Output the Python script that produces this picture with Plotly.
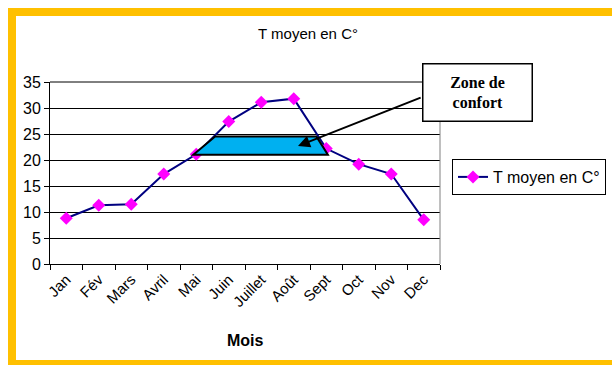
import plotly.graph_objects as go

# Monthly mean temperature
months = ["Jan", "Fév", "Mars", "Avril", "Mai", "Juin", "Juillet", "Août",
          "Sept", "Oct", "Nov", "Dec"]
t_moyen = [8.8, 11.3, 11.5, 17.3, 21.1, 27.4, 31.1, 31.8, 22.2, 19.2, 17.3, 8.5]

# Comfort band (°C) and its extent along the month axis
comfort_low = 21.0
comfort_high = 24.5
comfort_x = [3.91, 4.58, 7.70, 8.05]

y_ticks = [0, 5, 10, 15, 20, 25, 30, 35]

W, H = 612, 365
L, R, T, B = 50, 172, 82, 101
PW, PH = W - L - R, H - T - B


def px_x(px):
    return (px - L) / PW


def px_y(py):
    return (H - B - py) / PH


YELLOW = "#FFC000"
FONT = "Liberation Sans, Arial, sans-serif"

fig = go.Figure()
fig.add_trace(go.Scatter(
    x=months, y=t_moyen, mode="lines+markers", name="T moyen en C°",
    line=dict(color="#000080", width=2),
    marker=dict(symbol="diamond", size=10, color="#FF00FF",
                line=dict(width=0)),
))

shapes = []
# Yellow frame: one thick outline whose right side lies off the page
shapes.append(dict(type="rect", xref="paper", yref="paper",
                   x0=px_x(12), x1=px_x(660), y0=px_y(12), y1=px_y(364),
                   fillcolor="rgba(0,0,0,0)",
                   line=dict(color=YELLOW, width=8), layer="below"))
# Plot-area right border and top line
shapes.append(dict(type="line", xref="paper", yref="paper", x0=1, x1=1,
                   y0=0, y1=1, line=dict(color="#808080", width=1)))
shapes.append(dict(type="line", xref="paper", yref="paper", x0=0, x1=1,
                   y0=1, y1=1, line=dict(color="black", width=1)))
# Comfort zone trapezoid
path = (f"M {comfort_x[0]},{comfort_low} L {comfort_x[1]},{comfort_high} "
        f"L {comfort_x[2]},{comfort_high} L {comfort_x[3]},{comfort_low} Z")
shapes.append(dict(type="path", xref="x", yref="y", path=path,
                   fillcolor="#00B0F0", line=dict(color="black", width=2),
                   layer="above"))

annotations = [
    # Arrow from the label box to the comfort zone
    dict(x=7.13, y=22.7, xref="x", yref="y", ax=10.95, ay=32.1,
         axref="x", ayref="y", text="", showarrow=True, arrowhead=2,
         arrowsize=1.2, arrowwidth=2, arrowcolor="black", standoff=0),
    # Label box
    dict(x=px_x(477.5), y=px_y(92.5), xref="paper", yref="paper",
         xanchor="center", yanchor="middle", showarrow=False,
         text="<b>Zone de<br>confort</b>", align="center",
         font=dict(family="Liberation Serif, Times New Roman, serif",
                   size=16, color="black"),
         width=108, height=56, borderpad=0, borderwidth=1.5,
         bordercolor="black", bgcolor="white"),
    # X axis title
    dict(x=px_x(245), y=px_y(340), xref="paper", yref="paper",
         xanchor="center", yanchor="middle", showarrow=False,
         text="<b>Mois</b>", font=dict(family=FONT, size=16, color="black")),
]

fig.update_layout(
    width=W, height=H,
    margin=dict(l=L, r=R, t=T, b=B, autoexpand=False),
    paper_bgcolor="white", plot_bgcolor="white",
    font=dict(family=FONT, size=15, color="black"),
    title=dict(text="T moyen en C°", x=308 / W, xanchor="center",
               y=1 - 34 / H, yanchor="middle",
               font=dict(family=FONT, size=15, color="black")),
    xaxis=dict(type="category", categoryorder="array", categoryarray=months,
               range=[-0.5, 11.5], tickson="boundaries", ticks="outside",
               ticklen=5, tickcolor="black", showline=True, linecolor="black",
               linewidth=1, showgrid=False, tickangle=-45,
               tickfont=dict(family=FONT, size=15, color="black")),
    yaxis=dict(range=[0, 35], tickvals=y_ticks, ticks="outside", ticklen=5,
               tickcolor="black", showline=True, linecolor="black",
               linewidth=1, showgrid=True, gridcolor="black", gridwidth=1,
               zeroline=False,
               tickfont=dict(family=FONT, size=16, color="black")),
    showlegend=True,
    legend=dict(x=px_x(452), y=px_y(159), xanchor="left", yanchor="top",
                bordercolor="black", borderwidth=1, bgcolor="white",
                font=dict(family=FONT, size=16, color="black")),
    shapes=shapes,
    annotations=annotations,
)

fig.write_html("out.html")
